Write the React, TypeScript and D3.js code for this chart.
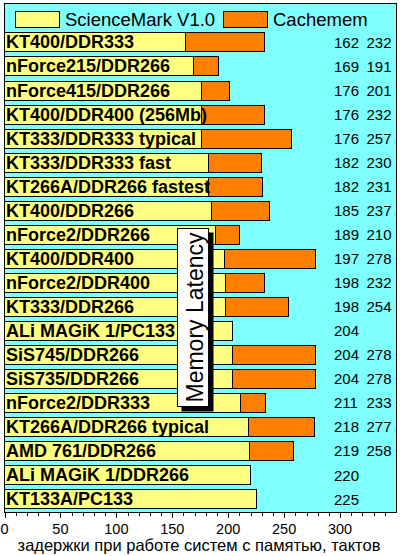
import React from 'react';
import * as d3 from 'd3';

// chipset / memory configurations, top to bottom
const systems = [
  'KT400/DDR333',
  'nForce215/DDR266',
  'nForce415/DDR266',
  'KT400/DDR400 (256Mb)',
  'KT333/DDR333 typical',
  'KT333/DDR333 fast',
  'KT266A/DDR266 fastest',
  'KT400/DDR266',
  'nForce2/DDR266',
  'KT400/DDR400',
  'nForce2/DDR400',
  'KT333/DDR266',
  'ALi MAGiK 1/PC133',
  'SiS745/DDR266',
  'SiS735/DDR266',
  'nForce2/DDR333',
  'KT266A/DDR266 typical',
  'AMD 761/DDR266',
  'ALi MAGiK 1/DDR266',
  'KT133A/PC133',
];
const scienceMark = [162, 169, 176, 176, 176, 182, 182, 185, 189, 197, 198, 198, 204, 204, 204, 211, 218, 219, 220, 225];
const cachemem: (number | null)[] = [232, 191, 201, 232, 257, 230, 231, 237, 210, 278, 232, 254, null, 278, 278, 233, 277, 258, null, null];
const seriesNames = ['ScienceMark V1.0', 'Cachemem'];
const tickLabels = [0, 50, 100, 150, 200, 250, 300];
const axisTitle = 'задержки при работе систем с памятью, тактов';
const chartTitle = 'Memory Latency';

const CYAN = '#80FFFF';
const YELLOW = '#FFFF80';
const ORANGE = '#FF8000';
const FONT = '"Liberation Sans", Arial, sans-serif';

const App: React.FC = () => {
  const width = 400;
  const height = 556;
  const panel = { left: 4, top: 3, right: 396, bottom: 512 };

  const x = d3.scaleLinear().domain([0, 350]).range([4.5, 396]);
  const y = d3.scaleBand<string>()
    .domain(systems)
    .range([30, 511])
    .paddingInner(0.2)
    .paddingOuter(0.1);

  const minorTicks = d3.range(0, 350, 10);

  return (
    <svg width={width} height={height} style={{ position: 'absolute', left: 0, top: 0 }} fontFamily={FONT}>
      <rect x={0} y={0} width={width} height={height} fill="#fff" />
      {/* plot panel */}
      <rect
        x={panel.left + 0.5}
        y={panel.top + 0.5}
        width={panel.right - panel.left}
        height={panel.bottom - panel.top}
        fill={CYAN}
        stroke="#000"
      />

      {/* legend */}
      <rect x={15.5} y={11.5} width={44} height={16} fill={YELLOW} stroke="#000" shapeRendering="crispEdges" />
      <text x={65} y={26} fontSize={18.5}>{seriesNames[0]}</text>
      <rect x={223.5} y={11.5} width={44} height={16} fill={ORANGE} stroke="#000" shapeRendering="crispEdges" />
      <text x={273} y={26} fontSize={18.5}>{seriesNames[1]}</text>

      {/* bars */}
      {systems.map((s, i) => {
        const top = Math.round(y(s)!) + 0.5;
        const h = Math.round(y.bandwidth());
        const cm = cachemem[i];
        return (
          <g key={s} shapeRendering="crispEdges">
            {cm != null && (
              <rect x={x(0)} y={top} width={Math.round(x(cm) - x(0))} height={h} fill={ORANGE} stroke="#000" />
            )}
            <rect x={x(0)} y={top} width={Math.round(x(scienceMark[i]) - x(0))} height={h} fill={YELLOW} stroke="#000" />
          </g>
        );
      })}

      {/* bar labels and values */}
      {systems.map((s, i) => {
        const cy = y(s)! + y.bandwidth() / 2;
        const cm = cachemem[i];
        return (
          <g key={s + '-t'}>
            <text x={6} y={cy + 6.4} fontSize={18} fontWeight="bold">{s}</text>
            <text x={334} y={cy + 5.6} fontSize={15}>{scienceMark[i]}</text>
            {cm != null && <text x={366.5} y={cy + 5.6} fontSize={15}>{cm}</text>}
          </g>
        );
      })}

      {/* x axis */}
      <g shapeRendering="crispEdges">
        <line x1={panel.left} x2={panel.right + 1} y1={panel.bottom + 0.5} y2={panel.bottom + 0.5} stroke="#000" />
        {minorTicks.map(t => (
          <line
            key={t}
            x1={Math.round(x(t)) + 0.5}
            x2={Math.round(x(t)) + 0.5}
            y1={panel.bottom}
            y2={panel.bottom + (t % 50 === 0 ? 6 : 4)}
            stroke="#000"
          />
        ))}
      </g>
      {tickLabels.map(t => (
        <text key={t} x={x(t)} y={534} fontSize={14.5} textAnchor="middle">{t}</text>
      ))}
      <text x={199} y={551} fontSize={16.5} textAnchor="middle">{axisTitle}</text>

      {/* title box */}
      <rect x={181.5} y={232.5} width={32} height={179} fill="#000" />
      <rect x={177.5} y={228.5} width={31} height={178} fill="#fff" stroke="#000" shapeRendering="crispEdges" />
      <text
        transform={`translate(203,317.5) rotate(-90)`}
        fontSize={23}
        textAnchor="middle"
      >
        {chartTitle}
      </text>
    </svg>
  );
};

export default App;
